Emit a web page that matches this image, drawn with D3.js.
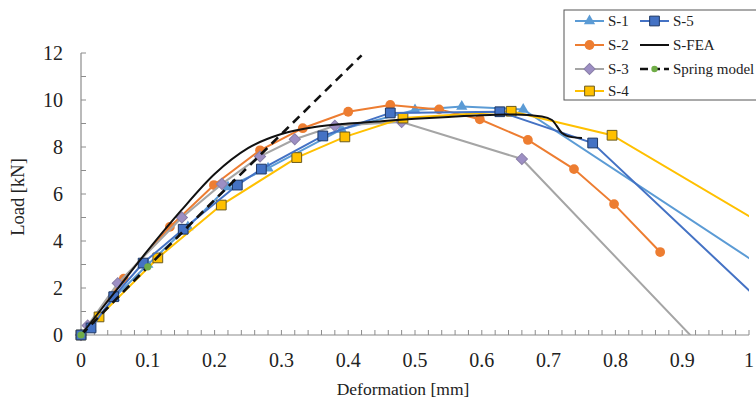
<!DOCTYPE html>
<html>
<head>
<meta charset="utf-8">
<script src="https://cdn.jsdelivr.net/npm/d3@7"></script>
<style>
  body { margin: 0; background: #fff; }
  text { font-family: "Liberation Serif", "Times New Roman", serif; fill: #222; }
</style>
</head>
<body>
<div id="chart"></div>
<script>
// measured load-deformation curves (deformation mm, load kN)
const s1X = [0, 0.015, 0.05, 0.1, 0.16, 0.22, 0.28, 0.39, 0.5, 0.57, 0.662, 1.06];
const s1Y = [0, 0.3, 1.6, 3.0, 4.6, 6.3, 7.1, 8.75, 9.57, 9.72, 9.6, 2.15];

const s2X = [0, 0.064, 0.133, 0.199, 0.268, 0.332, 0.4, 0.463, 0.536, 0.597, 0.669, 0.738, 0.798, 0.867];
const s2Y = [0, 2.4, 4.6, 6.38, 7.86, 8.8, 9.5, 9.79, 9.6, 9.18, 8.3, 7.06, 5.57, 3.53];

const s3X = [0, 0.01, 0.055, 0.151, 0.211, 0.268, 0.32, 0.38, 0.48, 0.66, 0.95];
const s3Y = [0, 0.4, 2.2, 5.0, 6.43, 7.6, 8.33, 8.9, 9.06, 7.49, -1.13];

const s4X = [0, 0.027, 0.115, 0.21, 0.323, 0.395, 0.482, 0.644, 0.795, 1.06];
const s4Y = [0, 0.77, 3.28, 5.53, 7.55, 8.43, 9.23, 9.52, 8.5, 4.05];

const s5X = [0, 0.015, 0.049, 0.093, 0.153, 0.234, 0.27, 0.362, 0.463, 0.627, 0.766, 1.06];
const s5Y = [0, 0.3, 1.63, 3.06, 4.5, 6.38, 7.06, 8.47, 9.45, 9.5, 8.17, 0.29];

const feaX = [0, 0.05, 0.1, 0.15, 0.2, 0.25, 0.3, 0.35, 0.4, 0.45, 0.5, 0.55, 0.6, 0.65, 0.69, 0.705, 0.72, 0.735, 0.75];
const feaY = [0, 1.8, 3.6, 5.3, 6.85, 7.95, 8.55, 8.85, 9.0, 9.1, 9.2, 9.28, 9.35, 9.38, 9.3, 9.15, 8.6, 8.42, 8.38];

const springX = [0, 0.1, 0.2, 0.3, 0.42];
const springY = [0, 2.9, 5.75, 8.55, 11.9];
const springMarked = 2; // only the first two points carry a marker

const xTicks = [0, 0.1, 0.2, 0.3, 0.4, 0.5, 0.6, 0.7, 0.8, 0.9, 1];
const yTicks = [0, 2, 4, 6, 8, 10, 12];

const W = 756, H = 406;
const x = d3.scaleLinear().domain([0, 1]).range([81, 749]);
const y = d3.scaleLinear().domain([0, 12]).range([335, 53]);

const svg = d3.select('#chart').append('svg')
  .attr('width', W).attr('height', H);

svg.append('clipPath').attr('id', 'plot')
  .append('rect')
  .attr('x', x(0)).attr('y', y(12) - 10)
  .attr('width', x(1) - x(0)).attr('height', y(0) - y(12) + 10);

// axes: gray lines with inward ticks
const axisColor = '#8c8c8c';
const g = svg.append('g');
g.append('line').attr('x1', x(0)).attr('x2', x(1)).attr('y1', y(0)).attr('y2', y(0))
  .attr('stroke', axisColor).attr('stroke-width', 1.2);
g.append('line').attr('x1', x(0)).attr('x2', x(0)).attr('y1', y(0)).attr('y2', y(12))
  .attr('stroke', axisColor).attr('stroke-width', 1.2);
g.selectAll('.xt').data(d3.range(0, 51).map(i => i / 50)).join('line')
  .attr('x1', d => x(d)).attr('x2', d => x(d))
  .attr('y1', y(0)).attr('y2', y(0) - 5)
  .attr('stroke', axisColor);
g.selectAll('.yt').data(d3.range(0, 13)).join('line')
  .attr('x1', x(0)).attr('x2', x(0) + 5)
  .attr('y1', d => y(d)).attr('y2', d => y(d))
  .attr('stroke', axisColor);

g.selectAll('.xl').data(xTicks).join('text')
  .attr('x', d => x(d)).attr('y', y(0) + 32)
  .attr('text-anchor', 'middle').attr('font-size', 20)
  .text(d => d3.format('')(d));
g.selectAll('.yl').data(yTicks).join('text')
  .attr('x', 63).attr('y', d => y(d) + 7)
  .attr('text-anchor', 'end').attr('font-size', 20)
  .text(d => d);

svg.append('text').attr('x', 403).attr('y', 395)
  .attr('text-anchor', 'middle').attr('font-size', 17.5)
  .text('Deformation [mm]');
svg.append('text').attr('transform', 'translate(24,197) rotate(-90)')
  .attr('text-anchor', 'middle').attr('font-size', 18.5)
  .text('Load [kN]');

// series styles
const series = [
  { name: 'S-1', xs: s1X, ys: s1Y, line: '#5b9bd5', shape: 'triangle', fill: '#5b9bd5', edge: 'none' },
  { name: 'S-2', xs: s2X, ys: s2Y, line: '#ed7d31', shape: 'circle', fill: '#ed7d31', edge: 'none' },
  { name: 'S-3', xs: s3X, ys: s3Y, line: '#a5a5a5', shape: 'diamond', fill: '#9d8fc4', edge: '#8a7fa8' },
  { name: 'S-4', xs: s4X, ys: s4Y, line: '#ffc000', shape: 'square', fill: '#ffc000', edge: '#6b5a1e' },
  { name: 'S-5', xs: s5X, ys: s5Y, line: '#4472c4', shape: 'square', fill: '#4472c4', edge: '#1f3864' },
];

function marker(sel, shape, fill, edge) {
  let path;
  if (shape === 'triangle') path = d3.symbol(d3.symbolTriangle, 55)();
  else if (shape === 'circle') path = d3.symbol(d3.symbolCircle, 75)();
  else path = d3.symbol(d3.symbolSquare, shape === 'diamond' ? 62 : 95)();
  return sel.append('path').attr('d', path)
    .attr('fill', fill).attr('stroke', edge).attr('stroke-width', 1)
    .attr('transform', shape === 'diamond' ? 'rotate(45)' : null);
}

const lineGen = d3.line().x(d => x(d[0])).y(d => y(d[1]));
const plot = svg.append('g');

series.forEach(s => {
  const pts = s.xs.map((v, i) => [v, s.ys[i]]);
  plot.append('path').datum(pts)
    .attr('d', lineGen).attr('fill', 'none')
    .attr('stroke', s.line).attr('stroke-width', 2)
    .attr('clip-path', 'url(#plot)');
  pts.filter(p => p[0] <= 1 && p[1] >= 0).forEach(p => {
    const m = plot.append('g').attr('transform', `translate(${x(p[0])},${y(p[1])})`);
    marker(m, s.shape, s.fill, s.edge);
  });
});

// FEA
plot.append('path').datum(feaX.map((v, i) => [v, feaY[i]]))
  .attr('d', lineGen.curve(d3.curveMonotoneX)).attr('fill', 'none')
  .attr('stroke', '#111').attr('stroke-width', 2);
lineGen.curve(d3.curveLinear);

// spring model
const springPts = springX.map((v, i) => [v, springY[i]]);
plot.append('path').datum(springPts)
  .attr('d', lineGen).attr('fill', 'none')
  .attr('stroke', '#111').attr('stroke-width', 2.6)
  .attr('stroke-dasharray', '9,6');
plot.selectAll('.sp').data(springPts.slice(0, springMarked)).join('circle')
  .attr('cx', d => x(d[0])).attr('cy', d => y(d[1])).attr('r', 3.6)
  .attr('fill', '#70ad47');

// legend
const lg = svg.append('g');
lg.append('rect').attr('x', 564).attr('y', 10).attr('width', 200).attr('height', 90)
  .attr('fill', '#fff').attr('stroke', '#555').attr('stroke-width', 1);
const rows = [21, 45, 69, 91];
series.forEach((s, i) => {
  const col = i < 4 ? 0 : 1;
  const ry = col === 0 ? rows[i] : rows[0];
  const x0 = col === 0 ? 575 : 640;
  lg.append('line').attr('x1', x0).attr('x2', x0 + 29).attr('y1', ry).attr('y2', ry)
    .attr('stroke', s.line).attr('stroke-width', 2);
  const m = lg.append('g').attr('transform', `translate(${x0 + 14.5},${ry})`);
  marker(m, s.shape, s.fill, s.edge);
  lg.append('text').attr('x', x0 + 33).attr('y', ry + 5).attr('font-size', 15).text(s.name);
});
lg.append('line').attr('x1', 640).attr('x2', 669).attr('y1', rows[1]).attr('y2', rows[1])
  .attr('stroke', '#111').attr('stroke-width', 2);
lg.append('text').attr('x', 673).attr('y', rows[1] + 5).attr('font-size', 15).text('S-FEA');
lg.append('line').attr('x1', 640).attr('x2', 669).attr('y1', rows[2]).attr('y2', rows[2])
  .attr('stroke', '#111').attr('stroke-width', 2.6).attr('stroke-dasharray', '8,4');
lg.append('circle').attr('cx', 654.5).attr('cy', rows[2]).attr('r', 3.2).attr('fill', '#70ad47');
lg.append('text').attr('x', 673).attr('y', rows[2] + 5).attr('font-size', 15).text('Spring model');
</script>
</body>
</html>
